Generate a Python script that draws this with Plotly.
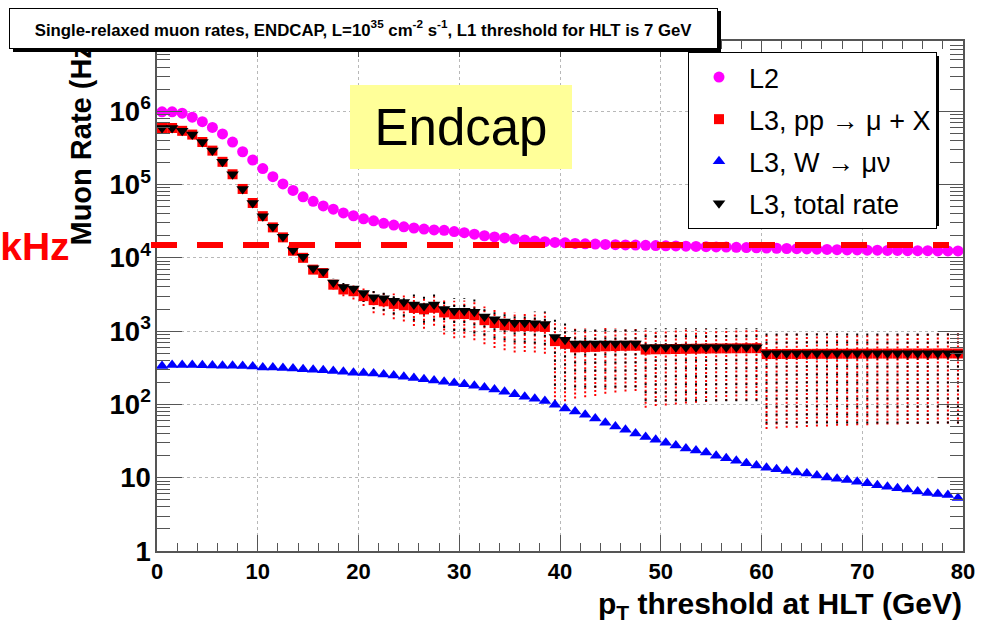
import plotly.graph_objects as go

# ---------------- data ----------------
pt = [i + 0.5 for i in range(80)]

rate_L2 = [9.8e5, 9.8e5, 9.4e5, 8.3e5, 7.2e5, 6.0e5, 4.9e5, 3.8e5, 2.8e5, 2.16e5,
           1.65e5, 1.28e5, 1.02e5, 8.3e4, 6.8e4, 5.9e4, 5.1e4, 4.6e4, 4.1e4, 3.75e4,
           3.4e4, 3.2e4, 2.96e4, 2.8e4, 2.65e4, 2.55e4, 2.47e4, 2.4e4, 2.37e4, 2.28e4,
           2.2e4, 2.1e4, 2.0e4, 1.93e4, 1.87e4, 1.8e4, 1.75e4, 1.7e4, 1.66e4, 1.62e4,
           1.6e4, 1.57e4, 1.55e4, 1.54e4, 1.52e4, 1.51e4, 1.5e4, 1.49e4, 1.48e4, 1.47e4,
           1.46e4, 1.45e4, 1.44e4, 1.43e4, 1.42e4, 1.41e4, 1.4e4, 1.39e4, 1.38e4, 1.37e4,
           1.36e4, 1.35e4, 1.34e4, 1.33e4, 1.32e4, 1.31e4, 1.3e4, 1.29e4, 1.28e4, 1.28e4,
           1.27e4, 1.27e4, 1.26e4, 1.26e4, 1.25e4, 1.25e4, 1.25e4, 1.24e4, 1.24e4, 1.24e4]

rate_total = [5.9e5, 5.9e5, 5.4e5, 4.8e5, 3.8e5, 2.9e5, 2.04e5, 1.38e5, 8.7e4, 5.6e4,
              3.7e4, 2.65e4, 1.94e4, 1.28e4, 1.03e4, 7.2e3, 6.5e3, 4.6e3, 4.0e3, 3.8e3,
              3.3e3, 2.9e3, 2.8e3, 2.6e3, 2.5e3, 2.3e3, 2.2e3, 2.3e3, 2.0e3, 1.9e3,
              1.9e3, 1.83e3, 1.58e3, 1.45e3, 1.35e3, 1.3e3, 1.3e3, 1.28e3, 1.25e3, 830,
              760, 680, 680, 680, 680, 680, 680, 680, 600, 600,
              600, 600, 600, 600, 600, 600, 600, 600, 600, 600,
              500, 500, 500, 500, 500, 500, 500, 500, 500, 500,
              500, 500, 500, 500, 500, 500, 500, 500, 500, 500]

err_total = [0, 0, 0, 0, 0, 0, 0, 0, 0, 0,
             0, 0, 0, 0, 0, 0, 0, 600, 700, 800,
             800, 900, 900, 900, 900, 900, 900, 900, 900, 900,
             900, 900, 700, 650, 600, 600, 600, 600, 600, 650,
             600, 510, 510, 510, 510, 510, 510, 510, 490, 490,
             490, 490, 490, 490, 490, 490, 490, 490, 490, 490,
             445, 445, 445, 445, 445, 445, 445, 445, 445, 445,
             445, 445, 445, 445, 445, 445, 445, 445, 445, 445]

rate_pp = [5.9e5, 5.9e5, 5.4e5, 4.8e5, 3.8e5, 2.9e5, 2.04e5, 1.38e5, 8.7e4, 5.6e4,
           3.7e4, 2.6e4, 1.9e4, 1.25e4, 1.0e4, 6.9e3, 6.2e3, 4.3e3, 3.7e3, 3.5e3,
           3.0e3, 2.65e3, 2.55e3, 2.35e3, 2.25e3, 2.07e3, 1.98e3, 2.08e3, 1.8e3, 1.7e3,
           1.71e3, 1.65e3, 1.41e3, 1.29e3, 1.2e3, 1.16e3, 1.17e3, 1.16e3, 1.14e3, 730,
           670, 600, 605, 610, 620, 625, 630, 632, 560, 565,
           567, 570, 573, 575, 578, 580, 581, 583, 584, 585,
           486, 487, 488, 488, 489, 490, 490, 491, 491, 492,
           492, 493, 493, 493, 494, 494, 494, 495, 495, 495]

err_pp = [0, 0, 0, 0, 0, 0, 0, 0, 0, 0,
          0, 0, 0, 0, 0, 0, 0, 600, 700, 800,
          800, 900, 900, 900, 900, 900, 900, 900, 900, 900,
          900, 900, 750, 700, 650, 650, 650, 650, 650, 620,
          560, 480, 480, 480, 480, 480, 480, 480, 470, 470,
          470, 470, 470, 470, 470, 470, 470, 470, 470, 470,
          440, 440, 440, 440, 440, 440, 440, 440, 440, 440,
          440, 440, 440, 440, 440, 440, 440, 440, 440, 440]

rate_W = [334, 345, 345, 345, 343, 340, 338, 336, 333, 330,
          320, 318, 314, 308, 301, 297, 292, 286, 278, 271,
          268, 265, 256, 248, 239, 229, 220, 212, 204, 196,
          188, 179, 170, 160, 149, 138, 127, 119, 111, 99,
          88, 80, 72, 64, 56, 50, 45, 40, 36, 33,
          30, 27.5, 25, 23.5, 22, 20, 18.4, 17, 15.8, 14.7,
          13.7, 13, 12.3, 11.8, 11.4, 10.7, 10.1, 9.7, 9.3, 8.8,
          8.4, 7.9, 7.5, 7.2, 6.9, 6.5, 6.2, 6.0, 5.8, 5.3]

rate_limit = 15000  # 15 kHz line
x_range = [0, 80]

names = ["L2", "L3, pp \u2192 \u03bc + X", "L3, W \u2192 \u03bc\u03bd", "L3, total rate"]

FONT = "Liberation Sans, Arial, sans-serif"

# ---------------- figure ----------------
W, H = 993, 632
ml, mr, mt, mb = 157, 30, 41, 81
pw, ph = W - ml - mr, H - mt - mb


def px(xp):
    return (xp - ml) / pw


def py(yp):
    return (H - mb - yp) / ph


def bars(xs, vals, errs):
    bx, by = [], []
    for x, v, e in zip(xs, vals, errs):
        if e > 0:
            bx += [x, x, None]
            by += [v - e, v + e, None]
    return bx, by


fig = go.Figure()

bx, by = bars(pt, rate_pp, err_pp)
fig.add_trace(go.Scatter(x=bx, y=by, mode="lines", showlegend=False, hoverinfo="skip",
                         line=dict(color="#ff0000", width=2, dash="2px,2px")))
bx, by = bars(pt, rate_total, err_total)
fig.add_trace(go.Scatter(x=bx, y=by, mode="lines", showlegend=False, hoverinfo="skip",
                         line=dict(color="#000000", width=2, dash="2px,6px")))

fig.add_trace(go.Scatter(x=pt, y=rate_L2, mode="markers", name=names[0], legendgroup="a",
                         marker=dict(symbol="circle", size=11, color="#ff00ff")))
fig.add_trace(go.Scatter(x=pt, y=rate_pp, mode="markers", name=names[1], legendgroup="b",
                         marker=dict(symbol="square", size=10, color="#ff0000")))
fig.add_trace(go.Scatter(x=pt, y=rate_W, mode="markers", name=names[2], legendgroup="c",
                         marker=dict(symbol="triangle-up", size=11, color="#0000ff")))
fig.add_trace(go.Scatter(x=pt, y=rate_total, mode="markers", name=names[3], legendgroup="d",
                         marker=dict(symbol="triangle-down", size=11, color="#000000")))

axis_common = dict(
    showline=True, linecolor="#555", linewidth=1.5, mirror="allticks",
    ticks="inside", tickcolor="#555", tickwidth=1,
    showgrid=True, gridcolor="#b8b8b8", griddash="dot", gridwidth=1,
    zeroline=False,
    tickfont=dict(family=FONT, size=22, color="black", weight="bold"),
)

fig.update_xaxes(range=x_range, dtick=10, tick0=0, ticklen=16,
                 minor=dict(dtick=2, ticks="inside", ticklen=8, tickcolor="#555", showgrid=False),
                 **axis_common)
fig.update_yaxes(type="log", range=[0, 6.958], dtick=1, ticklen=25, exponentformat="power",
                 minor=dict(ticks="inside", ticklen=13, tickcolor="#555", showgrid=False),
                 **axis_common)

# 15 kHz dashed line
fig.add_shape(type="line", xref="paper", yref="y", x0=px(151), x1=px(949),
              y0=rate_limit, y1=rate_limit, layer="above",
              line=dict(color="#ff0000", width=6, dash="26px,20px"))

# legend shadow
fig.add_shape(type="rect", xref="paper", yref="paper", x0=px(692), x1=px(939),
              y0=py(226), y1=py(56), fillcolor="black", line=dict(width=0), layer="above")

annotations = [
    # y axis title
    dict(text="<b>Muon Rate (Hz)</b>", textangle=-90, x=px(80), y=py(248), xref="paper", yref="paper",
         xanchor="center", yanchor="bottom", showarrow=False,
         font=dict(family=FONT, size=29, color="black")),
    # kHz label
    dict(text="<b>15 kHz</b>", x=px(72), y=py(246), xref="paper", yref="paper",
         xanchor="right", yanchor="middle", showarrow=False,
         font=dict(family=FONT, size=39, color="#ff0000")),
    # x axis title
    dict(text="<b>p<sub>T</sub> threshold at HLT (GeV)</b>", x=px(964), y=py(585),
         xref="paper", yref="paper", xanchor="right", yanchor="top", showarrow=False,
         font=dict(family=FONT, size=30, color="black")),
    # title shadow
    dict(text=" ", x=px(13), y=py(11), xref="paper", yref="paper", xanchor="left", yanchor="top",
         showarrow=False, width=708, height=41, bgcolor="black", borderpad=0, borderwidth=0),
    # title box
    dict(text="Single-relaxed muon rates, ENDCAP, L=10<sup>35</sup> cm<sup>-2</sup> s<sup>-1</sup>, "
              "L1 threshold for HLT is 7 GeV",
         x=px(9), y=py(8), xref="paper", yref="paper", xanchor="left", yanchor="top",
         showarrow=False, width=707, height=39, bgcolor="white", bordercolor="black",
         borderwidth=1, borderpad=0,
         font=dict(family=FONT, size=16.8, color="black", weight="bold")),
    # Endcap box
    dict(text="Endcap", x=px(350), y=py(85), xref="paper", yref="paper", xanchor="left",
         yanchor="top", showarrow=False, width=222, height=84, bgcolor="#ffff99",
         borderpad=0, borderwidth=0,
         font=dict(family=FONT, size=51, color="black")),
]

fig.update_layout(
    width=W, height=H,
    margin=dict(l=ml, r=mr, t=mt, b=mb, pad=0),
    paper_bgcolor="white", plot_bgcolor="white",
    annotations=annotations,
    showlegend=True,
    legend=dict(x=px(688), y=py(52), xanchor="left", yanchor="top",
                bgcolor="white", bordercolor="black", borderwidth=1,
                font=dict(family=FONT, size=27, color="black"),
                itemwidth=50, tracegroupgap=4, traceorder="grouped"),
    font=dict(family=FONT),
)

fig.write_html("out.html")
